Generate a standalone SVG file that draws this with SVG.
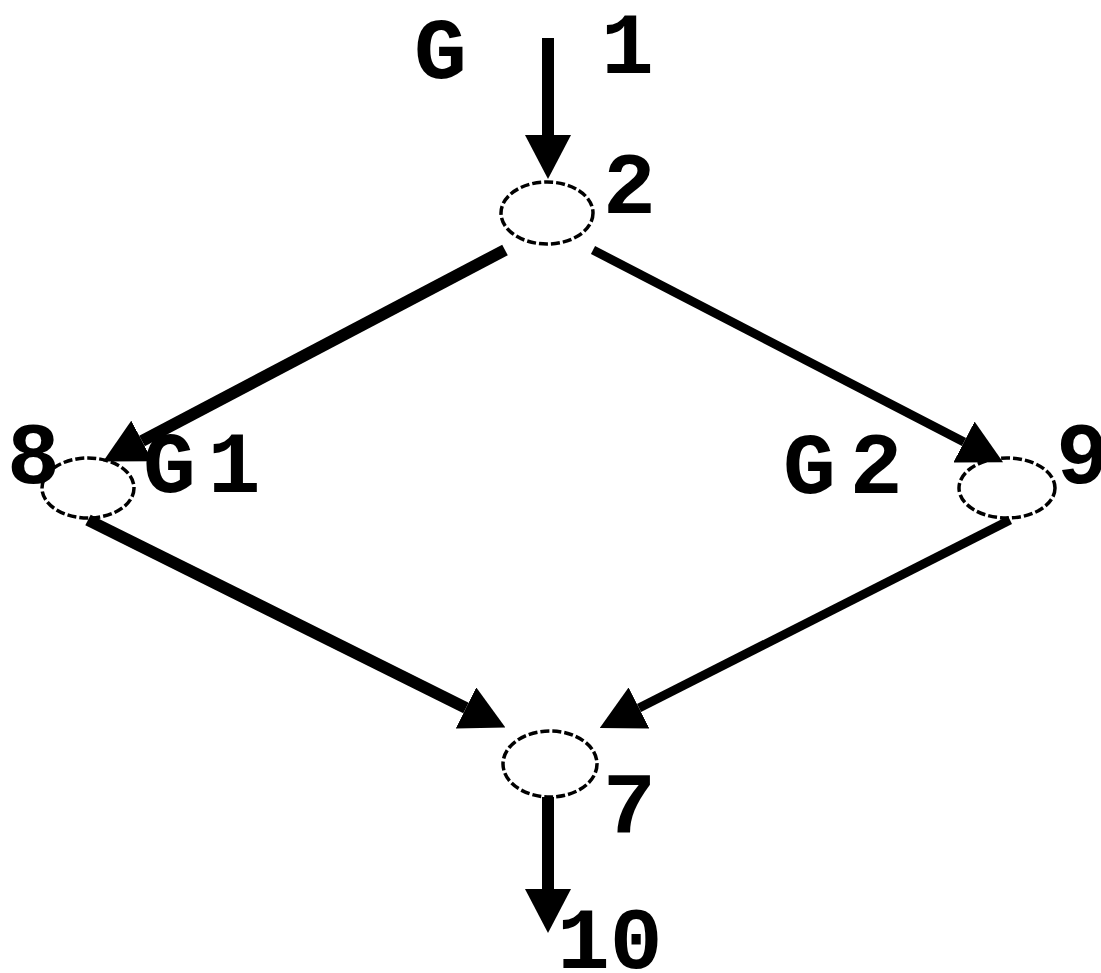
<svg xmlns="http://www.w3.org/2000/svg" width="1101" height="973" viewBox="0 0 1101 973">
<style>
.node{fill:none;stroke:#000;stroke-width:3.5;stroke-dasharray:9 3}
.edge{stroke:#000;fill:none}
.lbl{font-family:"Liberation Mono",monospace;font-weight:bold;font-size:88px;fill:#000}
</style>
<defs>
<marker id="ah" viewBox="0 -23 44 46" refX="0" refY="0" markerWidth="44" markerHeight="46" markerUnits="userSpaceOnUse" orient="auto">
<path d="M0,-23 L44,0 L0,23 z" fill="#000"/>
</marker>
</defs>
<rect width="1101" height="973" fill="#fff"/>
<g id="connectors">
<line class="edge" x1="548" y1="38" x2="548" y2="135" stroke-width="12" marker-end="url(#ah)"/>
<line class="edge" x1="505" y1="250" x2="142" y2="441" stroke-width="12" marker-end="url(#ah)"/>
<line class="edge" x1="593" y1="250" x2="964" y2="442" stroke-width="9" marker-end="url(#ah)"/>
<line class="edge" x1="88" y1="520" x2="466" y2="708" stroke-width="12" marker-end="url(#ah)"/>
<line class="edge" x1="1010" y1="520" x2="639" y2="708" stroke-width="9" marker-end="url(#ah)"/>
<line class="edge" x1="548" y1="797" x2="548" y2="889" stroke-width="12" marker-end="url(#ah)"/>
</g>
<g id="n1"><text class="lbl" x="601" y="73">1</text></g>
<g id="n2"><ellipse class="node" cx="547" cy="213" rx="46" ry="31"/><text class="lbl" x="603" y="213">2</text></g>
<g id="n8"><ellipse class="node" cx="88" cy="488" rx="46" ry="30"/><text class="lbl" x="7" y="483">8</text></g>
<g id="n9"><ellipse class="node" cx="1007" cy="488" rx="48" ry="30"/><text class="lbl" x="1056" y="483">9</text></g>
<g id="n7"><ellipse class="node" cx="550" cy="764" rx="47" ry="33"/><text class="lbl" x="603" y="833">7</text></g>
<g id="n10"><text class="lbl" x="557" y="968">10</text></g>
<g id="labels">
<text class="lbl" x="414" y="78" font-size="76">G</text>
<text class="lbl" x="143" y="492" letter-spacing="12">G1</text>
<text class="lbl" x="783" y="493" letter-spacing="14">G2</text>
</g>
</svg>
